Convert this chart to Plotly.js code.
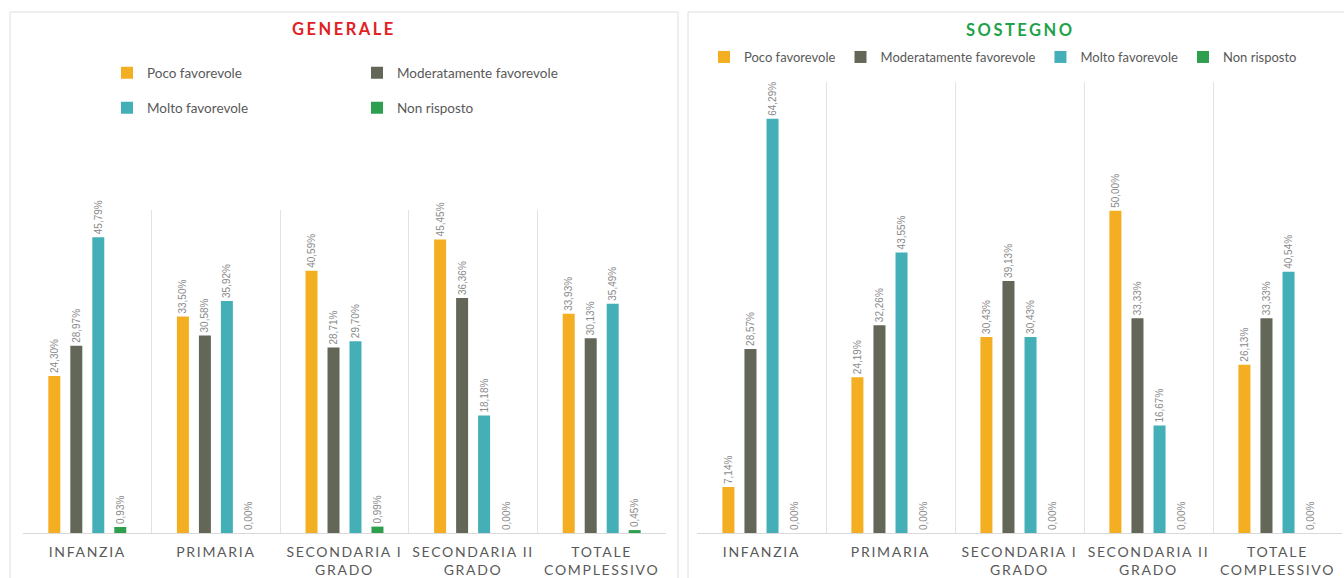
<!DOCTYPE html>
<html><head><meta charset="utf-8">
<script src="https://cdn.plot.ly/plotly-3.0.1.min.js"></script>
<style>html,body{margin:0;padding:0;background:#fff}#chart{width:1344px;height:578px}</style>
</head><body><div id="chart"></div>
<script>
const categories = ['INFANZIA', 'PRIMARIA', 'SECONDARIA I GRADO', 'SECONDARIA II GRADO', 'TOTALE COMPLESSIVO'];
const tickLabels = ['INFANZIA', 'PRIMARIA', 'SECONDARIA I<br>GRADO', 'SECONDARIA II<br>GRADO', 'TOTALE<br>COMPLESSIVO'];
const seriesNames = ['Poco favorevole', 'Moderatamente favorevole', 'Molto favorevole', 'Non risposto'];
const seriesColors = ['#F4AE22', '#636757', '#45AFB7', '#2E9E4F'];

const generalePoco = [24.30, 33.50, 40.59, 45.45, 33.93];
const generaleModerato = [28.97, 30.58, 28.71, 36.36, 30.13];
const generaleMolto = [45.79, 35.92, 29.70, 18.18, 35.49];
const generaleNonRisposto = [0.93, 0.00, 0.99, 0.00, 0.45];

const sostegnoPoco = [7.14, 24.19, 30.43, 50.00, 26.13];
const sostegnoModerato = [28.57, 32.26, 39.13, 33.33, 33.33];
const sostegnoMolto = [64.29, 43.55, 30.43, 16.67, 40.54];
const sostegnoNonRisposto = [0.00, 0.00, 0.00, 0.00, 0.00];

const W = 1344, H = 578;
const px = v => v / W;
const py = v => (H - v) / H;
const fmt = v => v.toFixed(2).replace('.', ',') + '%';
const spaced = (t, ls) => t.split('<br>').map(l => '<span style="letter-spacing:' + ls + 'px">' + l + '</span>').join('<br>');

const generale = [generalePoco, generaleModerato, generaleMolto, generaleNonRisposto];
const sostegno = [sostegnoPoco, sostegnoModerato, sostegnoMolto, sostegnoNonRisposto];

const traces = [];
generale.forEach((vals, i) => {
  traces.push({
    type: 'bar', x: categories, y: vals, name: seriesNames[i],
    marker: {color: seriesColors[i]},
    text: vals.map(fmt), textposition: 'outside', textangle: -90,
    textfont: {family: 'Liberation Sans', size: 10, color: '#8a8a8a'},
    cliponaxis: false, constraintext: 'none',
    xaxis: 'x', yaxis: 'y',
    legend: i < 2 ? 'legend' : 'legend2'
  });
});
sostegno.forEach((vals, i) => {
  traces.push({
    type: 'bar', x: categories, y: vals, name: seriesNames[i],
    marker: {color: seriesColors[i]},
    text: vals.map(fmt), textposition: 'outside', textangle: -90,
    textfont: {family: 'Liberation Sans', size: 10, color: '#8a8a8a'},
    cliponaxis: false, constraintext: 'none',
    xaxis: 'x2', yaxis: 'y2',
    legend: 'legend3'
  });
});

const xCommon = {
  type: 'category', tickvals: categories, ticktext: tickLabels.map(t => spaced(t, 1.7)),
  tickfont: {family: 'Lato', size: 14, color: '#595959'}, tickangle: 0,
  showgrid: true, tickson: 'boundaries', gridcolor: '#e3e3e3', gridwidth: 1,
  showline: true, linecolor: '#d9d9d9', linewidth: 1,
  ticks: '', ticklabelstandoff: 6, zeroline: false, fixedrange: true
};
const yCommon = {showgrid: false, zeroline: false, showticklabels: false, showline: false, ticks: '', fixedrange: true};
const legendFont = {family: 'Lato', size: 13.5, color: '#595959'};

const layout = {
  width: W, height: H,
  margin: {l: 0, r: 0, t: 0, b: 0},
  paper_bgcolor: '#ffffff', plot_bgcolor: 'rgba(0,0,0,0)',
  barmode: 'group', bargap: 0.316, bargroupgap: 0.455,
  xaxis: Object.assign({}, xCommon, {domain: [px(23), px(666)], anchor: 'y'}),
  yaxis: Object.assign({}, yCommon, {domain: [py(533), py(210)], range: [0, 50], anchor: 'x'}),
  xaxis2: Object.assign({}, xCommon, {domain: [px(697), px(1342)], anchor: 'y2'}),
  yaxis2: Object.assign({}, yCommon, {domain: [py(533), py(82)], range: [0, 70], anchor: 'x2'}),
  legend: {orientation: 'h', x: px(107), y: py(73), xanchor: 'left', yanchor: 'middle',
    entrywidth: 205, font: legendFont, bgcolor: 'rgba(0,0,0,0)', traceorder: 'normal'},
  legend2: {orientation: 'h', x: px(107), y: py(108), xanchor: 'left', yanchor: 'middle',
    entrywidth: 205, font: legendFont, bgcolor: 'rgba(0,0,0,0)', traceorder: 'normal'},
  legend3: {orientation: 'h', x: px(704), y: py(57), xanchor: 'left', yanchor: 'middle',
    font: Object.assign({}, legendFont, {size: 13}), bgcolor: 'rgba(0,0,0,0)', traceorder: 'normal'},
  annotations: [
    {text: '<b>' + spaced('GENERALE', 2.5) + '</b>', xref: 'paper', yref: 'paper', x: px(344), y: py(29),
      xanchor: 'center', yanchor: 'middle', showarrow: false,
      font: {family: 'Lato', size: 16.5, color: '#E2201F'}},
    {text: '<b>' + spaced('SOSTEGNO', 2.5) + '</b>', xref: 'paper', yref: 'paper', x: px(1020), y: py(30),
      xanchor: 'center', yanchor: 'middle', showarrow: false,
      font: {family: 'Lato', size: 16.5, color: '#1FA24B'}}
  ],
  shapes: [
    {type: 'rect', xref: 'paper', yref: 'paper', x0: px(10), x1: px(678), y0: -0.05, y1: py(12),
      line: {color: '#dedede', width: 1}, layer: 'below'},
    {type: 'rect', xref: 'paper', yref: 'paper', x0: px(688), x1: 1.05, y0: -0.05, y1: py(12),
      line: {color: '#dedede', width: 1}, layer: 'below'}
  ],
  hovermode: false
};

Plotly.newPlot('chart', traces, layout, {displayModeBar: false, staticPlot: true});
</script>
</body></html>
